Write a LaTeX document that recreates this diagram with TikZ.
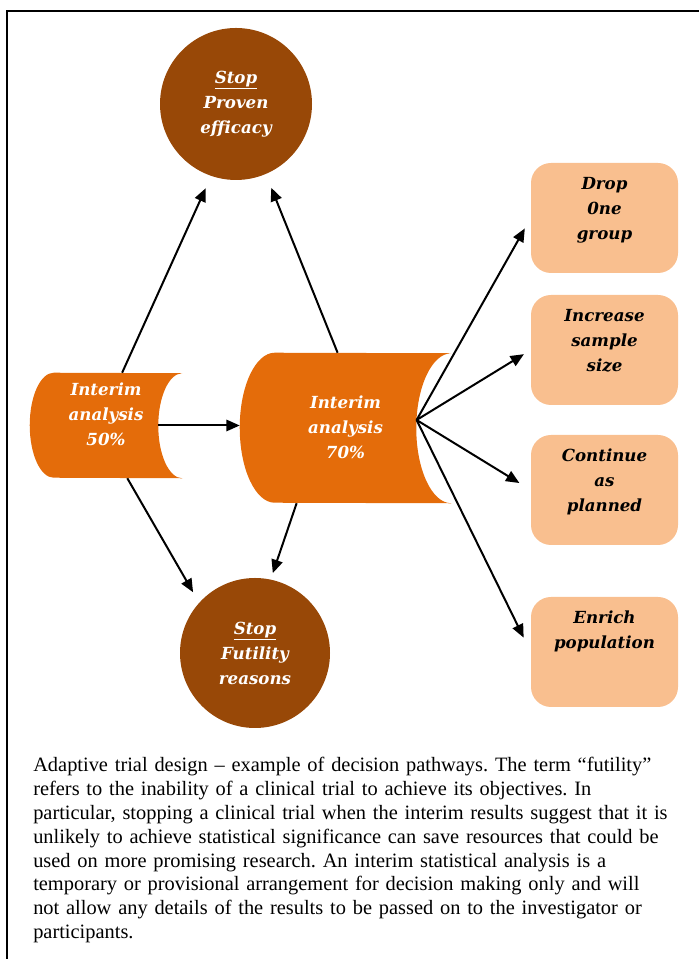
\documentclass[tikz,border=0pt]{standalone}
\usepackage{fontspec}
\setmainfont{Liberation Serif}
\newfontfamily\boxfont{DejaVu Serif}
\usetikzlibrary{arrows.meta,positioning}

\definecolor{stopbrown}{HTML}{984807}
\definecolor{interimorange}{HTML}{E46C0A}
\definecolor{optionpeach}{HTML}{F9BF8F}

\tikzset{
  flow/.style={line width=1.5pt, -{Triangle[length=10pt,width=8.5pt]}},
  stopcircle/.style={circle, fill=stopbrown, text=white, inner sep=0pt,
    align=center, font=\boxfont\bfseries\itshape\fontsize{12.5pt}{18.75pt}\selectfont},
  interim/.style={rectangle, inner sep=0pt},
  whitetext/.style={text=white, inner sep=0pt, align=center,
    font=\boxfont\bfseries\itshape\fontsize{12.5pt}{18.75pt}\selectfont},
  optbox/.style={rectangle, rounded corners=15pt, fill=optionpeach,
    minimum width=110.25pt, minimum height=82.5pt, inner sep=0pt},
  opttext/.style={inner sep=0pt, align=center,
    font=\boxfont\bfseries\itshape\fontsize{12.5pt}{18.75pt}\selectfont},
  caption/.style={inner sep=0pt, align=left, text width=490pt,
    font=\fontsize{15.3pt}{17.9pt}\selectfont\frenchspacing}
}

% storage shape: node name, bulge, half height
\newcommand\storage[3]{%
  \fill[interimorange] ([xshift=#2]#1.north west)
    arc[start angle=90, end angle=270, x radius=#2, y radius=#3]
    -- (#1.south east)
    arc[start angle=270, end angle=90, x radius=#2, y radius=#3]
    -- cycle;}

\begin{document}
\begin{tikzpicture}[x=0.75pt,y=0.75pt]
\useasboundingbox (0,0) rectangle (699,959);

% Frame
\draw[line width=1.5pt] (7,0) -- (7,948) -- (699,948);

% Stop circles
\node[stopcircle, minimum size=114pt] (stop1) at (236,855)
  {\underline{Stop}\\Proven\\efficacy};
\node[stopcircle, minimum size=112.5pt] (stop2) at (255,306)
  {\underline{Stop}\\Futility\\reasons};

% Interim analyses
\node[interim, minimum width=114pt, minimum height=78.75pt] (ia50) at (106,533.5) {};
\storage{ia50}{18pt}{39.375pt}
\node[whitetext] (ia50txt) at (106,545) {Interim\\analysis\\50\%};

\node[interim, minimum width=158.25pt, minimum height=112.5pt] (ia70) at (345.5,531) {};
\storage{ia70}{26.25pt}{56.25pt}
\node[whitetext] (ia70txt) at (345.5,532) {Interim\\analysis\\70\%};

% Options
\node[optbox] (drop) at (604.5,741) {};
\node[opttext, below=10.5pt of drop.north] (droptxt) {Drop\\0ne\\group};
\node[optbox] (incr) at (604.5,609) {};
\node[opttext, below=10.5pt of incr.north] (incrtxt) {Increase\\sample\\size};
\node[optbox] (cont) at (604.5,469) {};
\node[opttext, below=10.5pt of cont.north] (conttxt) {Continue\\as\\planned};
\node[optbox] (enrich) at (604.5,307) {};
\node[opttext, below=10.5pt of enrich.north] (enrichtxt) {Enrich\\population};

% Arrows
\draw[flow, shorten >=10pt] (ia50.73) -- (stop1.251);
\draw[flow, shorten >=9pt] (ia50.292) -- (stop2.138);
\draw[flow] ([xshift=-18pt]ia50.east) -- (ia50.east -| ia70.west);
\draw[flow, shorten >=11pt] (ia70.96) -- (stop1.293);
\draw[flow, shorten >=5pt] (ia70.237) -- (stop2.78);

\coordinate (hub) at ([xshift=-26pt,yshift=6pt]ia70.east);
\draw[flow, shorten >=9pt] (hub) -- (drop.west);
\draw[flow, shorten >=6pt] (hub) -- (incr.west);
\draw[flow, shorten >=10pt] (hub) -- (cont.west);
\draw[flow, shorten >=12pt] (hub) -- (enrich.west);

% Caption
\node[caption, anchor=north west] (cap) at (33,202) {%
Adaptive trial design – example of decision pathways. The term “futility”\\
refers to the inability of a clinical trial to achieve its objectives. In\\
particular, stopping a clinical trial when the interim results suggest that it is\\
unlikely to achieve statistical significance can save resources that could be\\
used on more promising research. An interim statistical analysis is a\\
temporary or provisional arrangement for decision making only and will\\
not allow any details of the results to be passed on to the investigator or\\
participants.};

\end{tikzpicture}
\end{document}
